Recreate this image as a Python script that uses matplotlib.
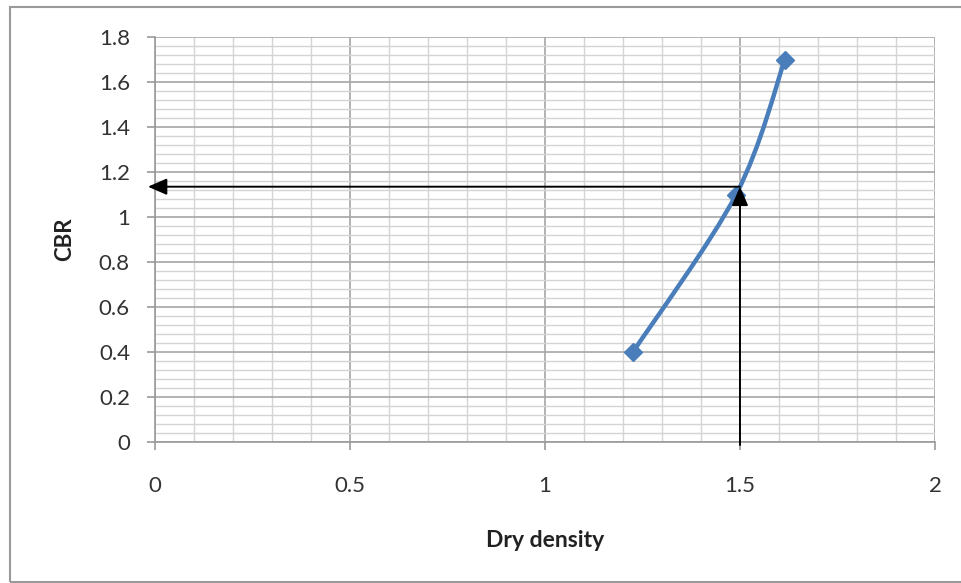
import numpy as np
import matplotlib
matplotlib.use("Agg")
import matplotlib.pyplot as plt
from matplotlib.path import Path
from matplotlib.patches import PathPatch, Rectangle

# data
dry_density = [1.226, 1.49, 1.615]
cbr = [0.40, 1.10, 1.70]

# value (arrows)
read_density = 1.5
read_cbr = 1.135

x_ticks = [0, 0.5, 1, 1.5, 2]
y_ticks = [0, 0.2, 0.4, 0.6, 0.8, 1, 1.2, 1.4, 1.6, 1.8]

plt.rcParams['font.family'] = ['Lato', 'DejaVu Sans']

LINE_BLUE = '#4a7ebb'


def smooth_path(xs, ys, t=1.0 / 6):
    """Excel-like smoothed line: cubic Bezier segments through every point."""
    pts = np.column_stack([xs, ys])
    n = len(pts)
    verts = [pts[0]]
    codes = [Path.MOVETO]
    for i in range(n - 1):
        p_prev = pts[i - 1] if i > 0 else pts[i]
        p_next = pts[i + 2] if i + 2 < n else pts[i + 1]
        c1 = pts[i] + (pts[i + 1] - p_prev) * t
        c2 = pts[i + 1] - (p_next - pts[i]) * t
        verts += [c1, c2, pts[i + 1]]
        codes += [Path.CURVE4] * 3
    return Path(verts, codes)


fig = plt.figure(figsize=(9.62, 5.83), dpi=100)
ax = fig.add_axes([0.1611, 0.2424, 0.8108, 0.6936])

# outer chart frame (grey, like the pasted Excel chart)
fig.patches.append(Rectangle((10 / 962, 1 / 583), 1.2, 575 / 583,
                             transform=fig.transFigure, fill=False,
                             edgecolor='#9a9a9a', lw=1.5))

ax.set_xlim(0, 2)
ax.set_ylim(0, 1.8)

# gridlines
for x in np.arange(0, 2.0001, 0.1):
    major = abs(x * 2 - round(x * 2)) < 1e-6
    ax.axvline(x, color='#a6a6a6' if major else '#d4d4d4',
               lw=1.2 if major else 1.0, zorder=0)
for y in np.arange(0, 1.8001, 0.04):
    major = abs(y * 5 - round(y * 5)) < 1e-6
    ax.axhline(y, color='#a6a6a6' if major else '#d4d4d4',
               lw=1.2 if major else 1.0, zorder=0)

for s in ['top', 'right']:
    ax.spines[s].set_visible(False)
for s in ['left', 'bottom']:
    ax.spines[s].set_color('#9a9a9a')
    ax.spines[s].set_linewidth(1.2)

ax.set_xticks(x_ticks)
ax.set_xticklabels(['0', '0.5', '1', '1.5', '2'])
ax.set_yticks(y_ticks)
ax.set_yticklabels(['0', '0.2', '0.4', '0.6', '0.8', '1', '1.2', '1.4', '1.6', '1.8'])
ax.tick_params(axis='both', length=6, width=1.2, color='#9a9a9a',
               labelsize=16, labelcolor='#333333')
ax.tick_params(axis='x', pad=19)
ax.tick_params(axis='y', pad=12)

# smoothed curve + markers
ax.add_patch(PathPatch(smooth_path(dry_density, cbr), fill=False,
                       edgecolor=LINE_BLUE, lw=3.2, zorder=3,
                       capstyle='round', joinstyle='round'))
ax.plot(dry_density, cbr, linestyle='none', marker='D', markersize=9,
        color=LINE_BLUE, zorder=4)

# reading arrows
arrow_kw = dict(arrowstyle='-|>,head_length=1.15,head_width=0.5',
                color='black', lw=1.4, shrinkA=0, shrinkB=0)
ax.annotate('', xy=(-0.018, read_cbr), xytext=(read_density, read_cbr),
            arrowprops=arrow_kw, annotation_clip=False, zorder=5)
ax.annotate('', xy=(read_density, read_cbr), xytext=(read_density, -0.015),
            arrowprops=arrow_kw, annotation_clip=False, zorder=5)

ax.set_xlabel('Dry density', fontsize=16.5, fontweight='bold',
              color='#222222', labelpad=24)
ax.set_ylabel('CBR', fontsize=16, fontweight='bold',
              color='#222222', labelpad=17)

fig.savefig('out.png', dpi=100, facecolor='white')
